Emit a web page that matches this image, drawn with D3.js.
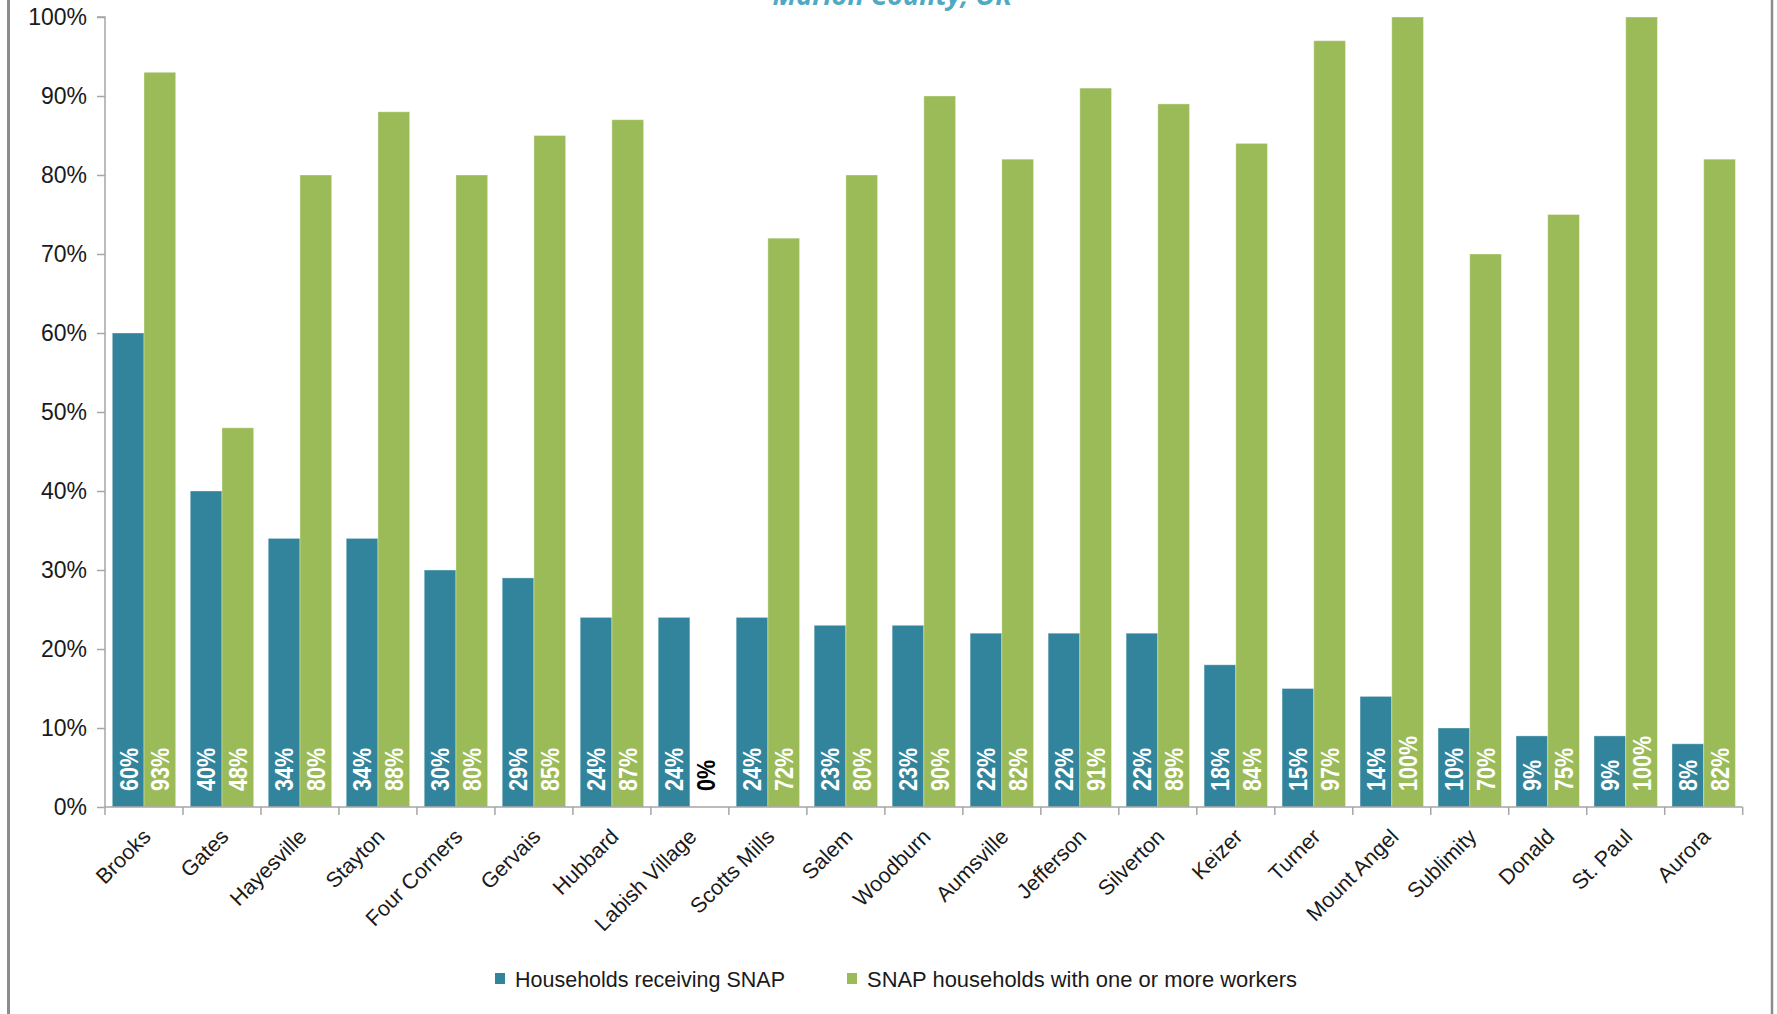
<!DOCTYPE html>
<html>
<head>
<meta charset="utf-8">
<script src="https://cdn.jsdelivr.net/npm/d3@7"></script>
<style>
  html, body { margin: 0; padding: 0; background: #fff; }
  svg { display: block; }
</style>
</head>
<body>
<svg id="chart" width="1777" height="1014"></svg>
<script>
const categories = ["Brooks", "Gates", "Hayesville", "Stayton", "Four Corners", "Gervais", "Hubbard",
  "Labish Village", "Scotts Mills", "Salem", "Woodburn", "Aumsville", "Jefferson", "Silverton",
  "Keizer", "Turner", "Mount Angel", "Sublimity", "Donald", "St. Paul", "Aurora"];
const snapShare = [0.60, 0.40, 0.34, 0.34, 0.30, 0.29, 0.24, 0.24, 0.24, 0.23, 0.23, 0.22, 0.22, 0.22,
  0.18, 0.15, 0.14, 0.10, 0.09, 0.09, 0.08];
const workerShare = [0.93, 0.48, 0.80, 0.88, 0.80, 0.85, 0.87, 0.00, 0.72, 0.80, 0.90, 0.82, 0.91, 0.89,
  0.84, 0.97, 1.00, 0.70, 0.75, 1.00, 0.82];
const seriesNames = ["Households receiving SNAP", "SNAP households with one or more workers"];
const seriesColors = ["#31849b", "#9bbb59"];
const yTicks = [0, 0.1, 0.2, 0.3, 0.4, 0.5, 0.6, 0.7, 0.8, 0.9, 1.0];
const titleText = "Marion County, OR";

(function () {
const svg = d3.select("#chart");
const FONT = "'Liberation Sans', Arial, sans-serif";

const pLeft = 105, pRight = 1742.7, pTop = 17, pBottom = 807;

const x = d3.scaleBand().domain(categories).range([pLeft, pRight]).paddingInner(0.187).paddingOuter(0.0935);
const x1 = d3.scaleBand().domain([0, 1]).range([0, x.bandwidth()]).padding(0);
const y = d3.scaleLinear().domain([0, 1]).range([pBottom, pTop]);

// frame lines
svg.append("line").attr("x1", 8.5).attr("x2", 8.5).attr("y1", 0).attr("y2", 1014)
  .attr("stroke", "#8c8c8c").attr("stroke-width", 3);
svg.append("line").attr("x1", 1772).attr("x2", 1772).attr("y1", 0).attr("y2", 1014)
  .attr("stroke", "#8c8c8c").attr("stroke-width", 2.5);

// title (cut off at top)
svg.append("text").attr("x", 892).attr("y", 5).attr("text-anchor", "middle")
  .attr("font-family", "'Open Sans', 'Liberation Sans', sans-serif").attr("font-size", 27)
  .attr("font-weight", "bold").attr("font-style", "italic")
  .attr("fill", "#4fa9c4").text(titleText);

// bars
const data = categories.map((c, i) => ({ cat: c, vals: [snapShare[i], workerShare[i]] }));
const groups = svg.append("g").selectAll("g").data(data).join("g")
  .attr("transform", d => `translate(${x(d.cat)},0)`);

groups.selectAll("rect").data(d => d.vals.map((v, k) => ({ v, k }))).join("rect")
  .attr("x", d => x1(d.k))
  .attr("width", x1.bandwidth())
  .attr("y", d => y(d.v))
  .attr("height", d => pBottom - y(d.v))
  .attr("fill", d => seriesColors[d.k])
  .attr("stroke", "#ffffff").attr("stroke-opacity", 0.35).attr("stroke-width", 1);

// value labels
groups.selectAll("text.val").data(d => d.vals.map((v, k) => ({ v, k }))).join("text")
  .attr("class", "val")
  .attr("transform", d => `translate(${x1(d.k) + x1.bandwidth() / 2},${pBottom - 16}) rotate(-90) scale(0.83,1)`)
  .attr("dy", "0.36em")
  .attr("text-anchor", "start")
  .attr("font-family", FONT).attr("font-size", 26).attr("font-weight", "bold")
  .attr("fill", d => d.v === 0 ? "#000000" : "#ffffff")
  .text(d => d3.format(".0%")(d.v));

// y axis
const yAxis = d3.axisLeft(y).tickValues(yTicks).tickFormat(d3.format(".0%")).tickSize(8).tickPadding(10);
const gy = svg.append("g").attr("transform", `translate(${pLeft},0)`).call(yAxis);
gy.select(".domain").attr("stroke", "#a6a6a6").attr("stroke-width", 1.5).attr("d", `M-8,${pTop}H0V${pBottom}`);
gy.selectAll(".tick line").attr("stroke", "#a6a6a6").attr("stroke-width", 1.5);
gy.selectAll(".tick text").attr("font-family", FONT).attr("font-size", 23).attr("fill", "#1a1a1a");

// x axis
const xAxis = d3.axisBottom(x).tickSize(0).tickPadding(0);
const gx = svg.append("g").attr("transform", `translate(0,${pBottom})`).call(xAxis);
gx.select(".domain").attr("stroke", "#a6a6a6").attr("stroke-width", 1.5).attr("d", `M${pLeft},0H${pRight}`);
gx.selectAll(".tick text")
  .attr("font-family", FONT).attr("font-size", 21.5).attr("fill", "#1a1a1a")
  .attr("text-anchor", "end")
  .attr("dy", 0).attr("y", 0)
  .attr("transform", "translate(8,31) rotate(-45)");

// boundary ticks on x axis
const step = x.step();
const bounds = categories.map(c => x(c) - step * x.paddingInner() / 2).concat([pRight]);
gx.selectAll("line.bound").data(bounds).join("line").attr("class", "bound")
  .attr("x1", d => d).attr("x2", d => d).attr("y1", 0).attr("y2", 8)
  .attr("stroke", "#a6a6a6").attr("stroke-width", 1.5);

// legend
const legendItems = [
  { name: seriesNames[0], color: seriesColors[0], x: 495, len: 270 },
  { name: seriesNames[1], color: seriesColors[1], x: 847, len: 430 }
];
const lg = svg.append("g");
lg.selectAll("rect").data(legendItems).join("rect")
  .attr("x", d => d.x).attr("y", 973).attr("width", 10).attr("height", 11).attr("fill", d => d.color);
lg.selectAll("text").data(legendItems).join("text")
  .attr("x", d => d.x + 20).attr("y", 986.5)
  .attr("font-family", FONT).attr("font-size", 22.5).attr("fill", "#1a1a1a")
  .attr("textLength", d => d.len).attr("lengthAdjust", "spacingAndGlyphs")
  .text(d => d.name);
})();
</script>
</body>
</html>
